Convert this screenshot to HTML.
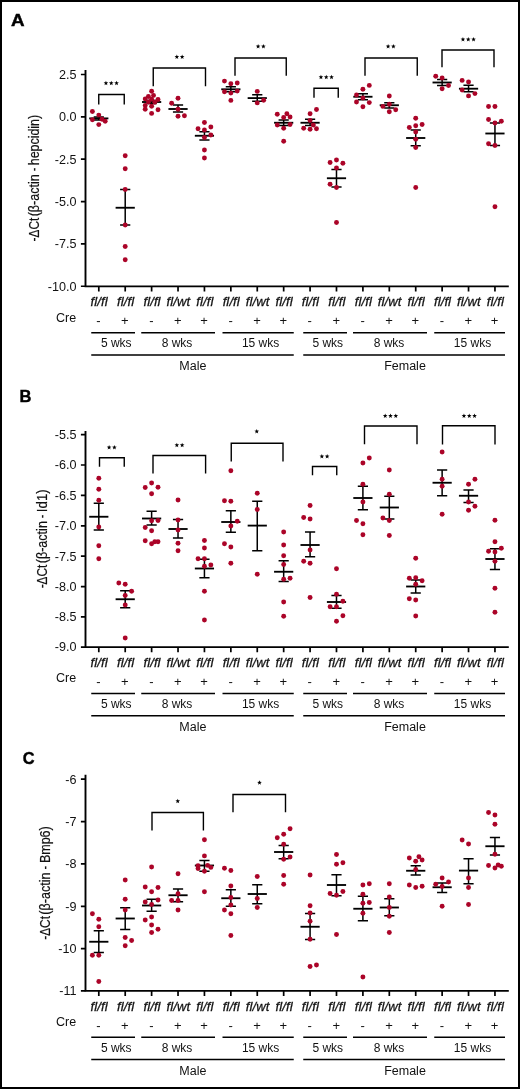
<!DOCTYPE html>
<html><head><meta charset="utf-8"><title>Figure</title>
<style>
html,body{margin:0;padding:0;background:#fff;}
body{width:520px;height:1089px;overflow:hidden;position:relative;font-family:"Liberation Sans",sans-serif;}
#frame{position:absolute;left:0;top:0;width:516px;height:1085px;border:2px solid #000;}
svg{position:absolute;left:0;top:0;will-change:transform;}
svg text{font-family:"Liberation Sans",sans-serif;fill:#111;}
.ax{stroke:#000;stroke-width:1.9;fill:none;stroke-linejoin:miter;}
.tk{stroke:#000;stroke-width:1.7;fill:none;}
.mn{stroke:#000;stroke-width:1.85;fill:none;}
.er{stroke:#000;stroke-width:1.5;fill:none;}
.br{stroke:#000;stroke-width:1.4;fill:none;stroke-linecap:square;}
.gl{stroke:#000;stroke-width:1.5;fill:none;}
.d{fill:#ab0428;}
.tl{font-size:12.6px;text-anchor:end;}
.gt{font-size:13px;font-style:italic;text-anchor:middle;stroke:#111;stroke-width:0.28px;letter-spacing:0.12px;}
.pm{font-size:13px;text-anchor:middle;}
.wk{font-size:12px;text-anchor:middle;}
.sx{font-size:12.5px;text-anchor:middle;}
.sp{fill:#000;stroke:none;}
.pl{font-size:17.4px;font-weight:bold;fill:#000;stroke:#000;stroke-width:0.45px;}
.yl{font-size:15px;text-anchor:start;stroke:#111;stroke-width:0.2px;}
</style></head><body>
<div id="frame"></div>
<svg width="520" height="1089" viewBox="0 0 520 1089">
<g>
<text class="pl" transform="translate(10.9 25.7) scale(1.08 1)">A</text>
<path class="ax" d="M85.5 69.9V286.4H508.8"/>
<path class="tk" d="M85.5 74.5H80.9M85.5 116.85H80.9M85.5 159.2H80.9M85.5 201.55H80.9M85.5 243.9H80.9M85.5 286.25H80.9"/>
<text class="tl" x="76.5" y="78.8">2.5</text>
<text class="tl" x="76.5" y="121.15">0.0</text>
<text class="tl" x="76.5" y="163.5">-2.5</text>
<text class="tl" x="76.5" y="205.85">-5.0</text>
<text class="tl" x="76.5" y="248.2">-7.5</text>
<text class="tl" x="76.5" y="290.55">-10.0</text>
<path class="tk" d="M98.8 286.4V291.6M125.21 286.4V291.6M151.62 286.4V291.6M178.03 286.4V291.6M204.44 286.4V291.6M230.85 286.4V291.6M257.26 286.4V291.6M283.67 286.4V291.6M310.08 286.4V291.6M336.49 286.4V291.6M362.9 286.4V291.6M389.31 286.4V291.6M415.72 286.4V291.6M442.13 286.4V291.6M468.54 286.4V291.6M494.95 286.4V291.6"/>
<g transform="translate(39.3 240.9) rotate(-90)">
<text class="yl" transform="translate(-0.53 0) scale(0.7897 1)">-ΔCt</text>
<text class="yl" transform="translate(24.55 0) scale(0.8380 1)">(β-actin</text>
<text class="yl" transform="translate(69.62 0) scale(0.7075 1)">-</text>
<text class="yl" transform="translate(75.63 0) scale(0.8289 1)">hepcidin)</text>
</g>
<text class="gt" x="99.2" y="306.3">fl/fl</text>
<text class="pm" x="98.5" y="325.3">-</text>
<text class="gt" x="125.61" y="306.3">fl/fl</text>
<text class="pm" x="124.91" y="325.3">+</text>
<text class="gt" x="152.02" y="306.3">fl/fl</text>
<text class="pm" x="151.32" y="325.3">-</text>
<text class="gt" x="178.43" y="306.3">fl/wt</text>
<text class="pm" x="177.73" y="325.3">+</text>
<text class="gt" x="204.84" y="306.3">fl/fl</text>
<text class="pm" x="204.14" y="325.3">+</text>
<text class="gt" x="231.25" y="306.3">fl/fl</text>
<text class="pm" x="230.55" y="325.3">-</text>
<text class="gt" x="257.66" y="306.3">fl/wt</text>
<text class="pm" x="256.96" y="325.3">+</text>
<text class="gt" x="284.07" y="306.3">fl/fl</text>
<text class="pm" x="283.37" y="325.3">+</text>
<text class="gt" x="310.48" y="306.3">fl/fl</text>
<text class="pm" x="309.78" y="325.3">-</text>
<text class="gt" x="336.89" y="306.3">fl/fl</text>
<text class="pm" x="336.19" y="325.3">+</text>
<text class="gt" x="363.3" y="306.3">fl/fl</text>
<text class="pm" x="362.6" y="325.3">-</text>
<text class="gt" x="389.71" y="306.3">fl/wt</text>
<text class="pm" x="389.01" y="325.3">+</text>
<text class="gt" x="416.12" y="306.3">fl/fl</text>
<text class="pm" x="415.42" y="325.3">+</text>
<text class="gt" x="442.53" y="306.3">fl/fl</text>
<text class="pm" x="441.83" y="325.3">-</text>
<text class="gt" x="468.94" y="306.3">fl/wt</text>
<text class="pm" x="468.24" y="325.3">+</text>
<text class="gt" x="495.35" y="306.3">fl/fl</text>
<text class="pm" x="494.65" y="325.3">+</text>
<text class="wk" style="text-anchor:start;font-size:12.5px" x="56.0" y="321.6">Cre</text>
<path class="gl" d="M91.25 332.8H135M141.25 332.8H215M222.5 332.8H293.75M303.25 332.8H347M353 332.8H427M434.25 332.8H505M91.25 355.05H293.75M303.25 355.05H505"/>
<text class="wk" x="116.25" y="347.4">5 wks</text>
<text class="wk" x="177" y="347.4">8 wks</text>
<text class="wk" x="260.6" y="347.4">15 wks</text>
<text class="wk" x="327.75" y="347.4">5 wks</text>
<text class="wk" x="389" y="347.4">8 wks</text>
<text class="wk" x="472.5" y="347.4">15 wks</text>
<text class="sx" x="192.9" y="370.3">Male</text>
<text class="sx" x="405" y="370.3">Female</text>
<path class="br" d="M98.75 103.8V94.5H124.25V103.8"/>
<path class="sp" d="M105.95 80.70L106.54 82.34L108.28 82.39L106.90 83.46L107.39 85.13L105.95 84.15L104.51 85.13L105.00 83.46L103.62 82.39L105.36 82.34Z"/>
<path class="sp" d="M111.25 80.70L111.84 82.34L113.58 82.39L112.20 83.46L112.69 85.13L111.25 84.15L109.81 85.13L110.30 83.46L108.92 82.39L110.66 82.34Z"/>
<path class="sp" d="M116.55 80.70L117.14 82.34L118.88 82.39L117.50 83.46L117.99 85.13L116.55 84.15L115.11 85.13L115.60 83.46L114.22 82.39L115.96 82.34Z"/>
<path class="br" d="M153.25 85.5V68H205.5V85.5"/>
<path class="sp" d="M176.85 54.45L177.44 56.09L179.18 56.14L177.80 57.21L178.29 58.88L176.85 57.90L175.41 58.88L175.90 57.21L174.52 56.14L176.26 56.09Z"/>
<path class="sp" d="M182.15 54.45L182.74 56.09L184.48 56.14L183.10 57.21L183.59 58.88L182.15 57.90L180.71 58.88L181.20 57.21L179.82 56.14L181.56 56.09Z"/>
<path class="br" d="M235 75V58H286.25V75"/>
<path class="sp" d="M258.10 43.95L258.69 45.59L260.43 45.64L259.05 46.71L259.54 48.38L258.10 47.40L256.66 48.38L257.15 46.71L255.77 45.64L257.51 45.59Z"/>
<path class="sp" d="M263.40 43.95L263.99 45.59L265.73 45.64L264.35 46.71L264.84 48.38L263.40 47.40L261.96 48.38L262.45 46.71L261.07 45.64L262.81 45.59Z"/>
<path class="br" d="M314 97V88.25H338.25V97"/>
<path class="sp" d="M320.95 74.70L321.54 76.34L323.28 76.39L321.90 77.46L322.39 79.13L320.95 78.15L319.51 79.13L320.00 77.46L318.62 76.39L320.36 76.34Z"/>
<path class="sp" d="M326.25 74.70L326.84 76.34L328.58 76.39L327.20 77.46L327.69 79.13L326.25 78.15L324.81 79.13L325.30 77.46L323.92 76.39L325.66 76.34Z"/>
<path class="sp" d="M331.55 74.70L332.14 76.34L333.88 76.39L332.50 77.46L332.99 79.13L331.55 78.15L330.11 79.13L330.60 77.46L329.22 76.39L330.96 76.34Z"/>
<path class="br" d="M365 75V58H417.25V75"/>
<path class="sp" d="M388.10 43.95L388.69 45.59L390.43 45.64L389.05 46.71L389.54 48.38L388.10 47.40L386.66 48.38L387.15 46.71L385.77 45.64L387.51 45.59Z"/>
<path class="sp" d="M393.40 43.95L393.99 45.59L395.73 45.64L394.35 46.71L394.84 48.38L393.40 47.40L391.96 48.38L392.45 46.71L391.07 45.64L392.81 45.59Z"/>
<path class="br" d="M442 66.5V50H494V66.5"/>
<path class="sp" d="M462.95 36.95L463.54 38.59L465.28 38.64L463.90 39.71L464.39 41.38L462.95 40.40L461.51 41.38L462.00 39.71L460.62 38.64L462.36 38.59Z"/>
<path class="sp" d="M468.25 36.95L468.84 38.59L470.58 38.64L469.20 39.71L469.69 41.38L468.25 40.40L466.81 41.38L467.30 39.71L465.92 38.64L467.66 38.59Z"/>
<path class="sp" d="M473.55 36.95L474.14 38.59L475.88 38.64L474.50 39.71L474.99 41.38L473.55 40.40L472.11 41.38L472.60 39.71L471.22 38.64L472.96 38.59Z"/>
<path class="mn" d="M89.2 118.4H108.4"/>
<path class="er" d="M98.8 116.9V119.9M93.7 116.9H103.9M93.7 119.9H103.9"/>
<path class="mn" d="M115.61 207.75H134.81"/>
<path class="er" d="M125.21 189.5V225M120.11 189.5H130.31M120.11 225H130.31"/>
<path class="mn" d="M142.02 102H161.22"/>
<path class="er" d="M151.62 100.5V103.5M146.52 100.5H156.72M146.52 103.5H156.72"/>
<path class="mn" d="M168.43 109H187.63"/>
<path class="er" d="M178.03 105V112M172.93 105H183.13M172.93 112H183.13"/>
<path class="mn" d="M194.84 135.75H214.04"/>
<path class="er" d="M204.44 131.75V140M199.34 131.75H209.54M199.34 140H209.54"/>
<path class="mn" d="M221.25 89.3H240.45"/>
<path class="er" d="M230.85 86.7V91.7M225.75 86.7H235.95M225.75 91.7H235.95"/>
<path class="mn" d="M247.66 98.1H266.86"/>
<path class="er" d="M257.26 94.8V101.3M252.16 94.8H262.36M252.16 101.3H262.36"/>
<path class="mn" d="M274.07 122.75H293.27"/>
<path class="er" d="M283.67 120V125.5M278.57 120H288.77M278.57 125.5H288.77"/>
<path class="mn" d="M300.48 122.75H319.68"/>
<path class="er" d="M310.08 119.25V125.5M304.98 119.25H315.18M304.98 125.5H315.18"/>
<path class="mn" d="M326.89 178.25H346.09"/>
<path class="er" d="M336.49 169.5V187M331.39 169.5H341.59M331.39 187H341.59"/>
<path class="mn" d="M353.3 96.75H372.5"/>
<path class="er" d="M362.9 93.75V99.75M357.8 93.75H368M357.8 99.75H368"/>
<path class="mn" d="M379.71 105.25H398.91"/>
<path class="er" d="M389.31 102.75V108M384.21 102.75H394.41M384.21 108H394.41"/>
<path class="mn" d="M406.12 138H425.32"/>
<path class="er" d="M415.72 130V145.75M410.62 130H420.82M410.62 145.75H420.82"/>
<path class="mn" d="M432.53 82.5H451.73"/>
<path class="er" d="M442.13 79.5V85.5M437.03 79.5H447.23M437.03 85.5H447.23"/>
<path class="mn" d="M458.94 88.7H478.14"/>
<path class="er" d="M468.54 85.2V91.7M463.44 85.2H473.64M463.44 91.7H473.64"/>
<path class="mn" d="M485.35 133.5H504.55"/>
<path class="er" d="M494.95 123V145.5M489.85 123H500.05M489.85 145.5H500.05"/>
<circle class="d" cx="92.4" cy="111.5" r="2.45"/>
<circle class="d" cx="98.8" cy="115.1" r="2.45"/>
<circle class="d" cx="92.4" cy="119.7" r="2.45"/>
<circle class="d" cx="102" cy="119.2" r="2.45"/>
<circle class="d" cx="105.2" cy="121.2" r="2.45"/>
<circle class="d" cx="98.8" cy="124.6" r="2.45"/>
<circle class="d" cx="125.21" cy="155.8" r="2.45"/>
<circle class="d" cx="125.21" cy="168.8" r="2.45"/>
<circle class="d" cx="125.21" cy="189.5" r="2.45"/>
<circle class="d" cx="125.21" cy="225" r="2.45"/>
<circle class="d" cx="125.21" cy="246.5" r="2.45"/>
<circle class="d" cx="125.21" cy="259.75" r="2.45"/>
<circle class="d" cx="151.62" cy="91.2" r="2.45"/>
<circle class="d" cx="148.42" cy="96.5" r="2.45"/>
<circle class="d" cx="153.54" cy="95.4" r="2.45"/>
<circle class="d" cx="145.22" cy="98.9" r="2.45"/>
<circle class="d" cx="151.62" cy="99.2" r="2.45"/>
<circle class="d" cx="158.02" cy="99.5" r="2.45"/>
<circle class="d" cx="148.42" cy="102" r="2.45"/>
<circle class="d" cx="154.82" cy="102.3" r="2.45"/>
<circle class="d" cx="145.22" cy="105.4" r="2.45"/>
<circle class="d" cx="151.62" cy="106.2" r="2.45"/>
<circle class="d" cx="145.22" cy="109.2" r="2.45"/>
<circle class="d" cx="158.02" cy="109.7" r="2.45"/>
<circle class="d" cx="151.62" cy="113.4" r="2.45"/>
<circle class="d" cx="178.03" cy="98.25" r="2.45"/>
<circle class="d" cx="171.63" cy="103.25" r="2.45"/>
<circle class="d" cx="178.03" cy="109.25" r="2.45"/>
<circle class="d" cx="178.03" cy="116.25" r="2.45"/>
<circle class="d" cx="184.43" cy="115.75" r="2.45"/>
<circle class="d" cx="204.44" cy="122.5" r="2.45"/>
<circle class="d" cx="198.04" cy="128.75" r="2.45"/>
<circle class="d" cx="210.84" cy="127" r="2.45"/>
<circle class="d" cx="204.44" cy="130" r="2.45"/>
<circle class="d" cx="210.84" cy="135" r="2.45"/>
<circle class="d" cx="204.44" cy="137.5" r="2.45"/>
<circle class="d" cx="204.44" cy="150" r="2.45"/>
<circle class="d" cx="204.44" cy="158" r="2.45"/>
<circle class="d" cx="224.45" cy="81.1" r="2.45"/>
<circle class="d" cx="230.85" cy="83.8" r="2.45"/>
<circle class="d" cx="237.25" cy="83" r="2.45"/>
<circle class="d" cx="224.45" cy="91.8" r="2.45"/>
<circle class="d" cx="237.25" cy="91.1" r="2.45"/>
<circle class="d" cx="230.85" cy="93.1" r="2.45"/>
<circle class="d" cx="230.85" cy="100.4" r="2.45"/>
<circle class="d" cx="257.26" cy="91.4" r="2.45"/>
<circle class="d" cx="263.66" cy="100.2" r="2.45"/>
<circle class="d" cx="257.26" cy="102.9" r="2.45"/>
<circle class="d" cx="277.27" cy="114.25" r="2.45"/>
<circle class="d" cx="286.87" cy="113.75" r="2.45"/>
<circle class="d" cx="283.67" cy="117.5" r="2.45"/>
<circle class="d" cx="290.07" cy="117" r="2.45"/>
<circle class="d" cx="277.27" cy="125" r="2.45"/>
<circle class="d" cx="290.07" cy="124.5" r="2.45"/>
<circle class="d" cx="283.67" cy="128.25" r="2.45"/>
<circle class="d" cx="283.67" cy="141.25" r="2.45"/>
<circle class="d" cx="316.48" cy="109.5" r="2.45"/>
<circle class="d" cx="310.08" cy="113.75" r="2.45"/>
<circle class="d" cx="310.08" cy="120.5" r="2.45"/>
<circle class="d" cx="303.68" cy="128.25" r="2.45"/>
<circle class="d" cx="310.08" cy="129.25" r="2.45"/>
<circle class="d" cx="316.48" cy="128.75" r="2.45"/>
<circle class="d" cx="313.28" cy="125" r="2.45"/>
<circle class="d" cx="330.09" cy="162.5" r="2.45"/>
<circle class="d" cx="336.49" cy="160" r="2.45"/>
<circle class="d" cx="342.89" cy="163.25" r="2.45"/>
<circle class="d" cx="336.49" cy="168" r="2.45"/>
<circle class="d" cx="330.09" cy="184.25" r="2.45"/>
<circle class="d" cx="336.49" cy="187.5" r="2.45"/>
<circle class="d" cx="336.49" cy="222.5" r="2.45"/>
<circle class="d" cx="369.3" cy="85.4" r="2.45"/>
<circle class="d" cx="362.9" cy="89.3" r="2.45"/>
<circle class="d" cx="356.5" cy="95" r="2.45"/>
<circle class="d" cx="362.9" cy="98" r="2.45"/>
<circle class="d" cx="356.5" cy="102" r="2.45"/>
<circle class="d" cx="369.3" cy="102.6" r="2.45"/>
<circle class="d" cx="362.9" cy="106.75" r="2.45"/>
<circle class="d" cx="389.31" cy="96" r="2.45"/>
<circle class="d" cx="382.91" cy="106.4" r="2.45"/>
<circle class="d" cx="389.31" cy="111.7" r="2.45"/>
<circle class="d" cx="395.71" cy="109.7" r="2.45"/>
<circle class="d" cx="389.31" cy="104.2" r="2.45"/>
<circle class="d" cx="415.72" cy="118.25" r="2.45"/>
<circle class="d" cx="409.32" cy="127.5" r="2.45"/>
<circle class="d" cx="415.72" cy="125.75" r="2.45"/>
<circle class="d" cx="422.12" cy="124.5" r="2.45"/>
<circle class="d" cx="415.72" cy="132" r="2.45"/>
<circle class="d" cx="415.72" cy="139.25" r="2.45"/>
<circle class="d" cx="415.72" cy="147.5" r="2.45"/>
<circle class="d" cx="415.72" cy="187.5" r="2.45"/>
<circle class="d" cx="435.73" cy="76.25" r="2.45"/>
<circle class="d" cx="442.13" cy="78" r="2.45"/>
<circle class="d" cx="448.53" cy="85.5" r="2.45"/>
<circle class="d" cx="442.13" cy="88.75" r="2.45"/>
<circle class="d" cx="462.14" cy="80.4" r="2.45"/>
<circle class="d" cx="468.54" cy="82" r="2.45"/>
<circle class="d" cx="462.14" cy="90" r="2.45"/>
<circle class="d" cx="474.94" cy="93.6" r="2.45"/>
<circle class="d" cx="468.54" cy="95.9" r="2.45"/>
<circle class="d" cx="488.55" cy="106.5" r="2.45"/>
<circle class="d" cx="494.95" cy="106.5" r="2.45"/>
<circle class="d" cx="488.55" cy="119.5" r="2.45"/>
<circle class="d" cx="501.35" cy="121.25" r="2.45"/>
<circle class="d" cx="494.95" cy="123" r="2.45"/>
<circle class="d" cx="488.55" cy="143.75" r="2.45"/>
<circle class="d" cx="494.95" cy="145.5" r="2.45"/>
<circle class="d" cx="494.95" cy="206.8" r="2.45"/>
</g>
<g>
<text class="pl" transform="translate(19.5 402.4) scale(0.95 1)">B</text>
<path class="ax" d="M85.5 431V647.1H508.8"/>
<path class="tk" d="M85.5 434.6H80.9M85.5 465H80.9M85.5 495.4H80.9M85.5 525.8H80.9M85.5 556.2H80.9M85.5 586.6H80.9M85.5 616.9H80.9M85.5 647.1H80.9"/>
<text class="tl" x="76.5" y="438.9">-5.5</text>
<text class="tl" x="76.5" y="469.3">-6.0</text>
<text class="tl" x="76.5" y="499.7">-6.5</text>
<text class="tl" x="76.5" y="530.1">-7.0</text>
<text class="tl" x="76.5" y="560.5">-7.5</text>
<text class="tl" x="76.5" y="590.9">-8.0</text>
<text class="tl" x="76.5" y="621.2">-8.5</text>
<text class="tl" x="76.5" y="651.4">-9.0</text>
<path class="tk" d="M98.8 647.1V652.3M125.21 647.1V652.3M151.62 647.1V652.3M178.03 647.1V652.3M204.44 647.1V652.3M230.85 647.1V652.3M257.26 647.1V652.3M283.67 647.1V652.3M310.08 647.1V652.3M336.49 647.1V652.3M362.9 647.1V652.3M389.31 647.1V652.3M415.72 647.1V652.3M442.13 647.1V652.3M468.54 647.1V652.3M494.95 647.1V652.3"/>
<g transform="translate(46.6 587.8) rotate(-90)">
<text class="yl" transform="translate(-0.53 0) scale(0.7897 1)">-ΔCt</text>
<text class="yl" transform="translate(24.55 0) scale(0.8380 1)">(β-actin</text>
<text class="yl" transform="translate(69.62 0) scale(0.7075 1)">-</text>
<text class="yl" transform="translate(75.6 0) scale(0.8875 1)">Id1)</text>
</g>
<text class="gt" x="99.2" y="667">fl/fl</text>
<text class="pm" x="98.5" y="686">-</text>
<text class="gt" x="125.61" y="667">fl/fl</text>
<text class="pm" x="124.91" y="686">+</text>
<text class="gt" x="152.02" y="667">fl/fl</text>
<text class="pm" x="151.32" y="686">-</text>
<text class="gt" x="178.43" y="667">fl/wt</text>
<text class="pm" x="177.73" y="686">+</text>
<text class="gt" x="204.84" y="667">fl/fl</text>
<text class="pm" x="204.14" y="686">+</text>
<text class="gt" x="231.25" y="667">fl/fl</text>
<text class="pm" x="230.55" y="686">-</text>
<text class="gt" x="257.66" y="667">fl/wt</text>
<text class="pm" x="256.96" y="686">+</text>
<text class="gt" x="284.07" y="667">fl/fl</text>
<text class="pm" x="283.37" y="686">+</text>
<text class="gt" x="310.48" y="667">fl/fl</text>
<text class="pm" x="309.78" y="686">-</text>
<text class="gt" x="336.89" y="667">fl/fl</text>
<text class="pm" x="336.19" y="686">+</text>
<text class="gt" x="363.3" y="667">fl/fl</text>
<text class="pm" x="362.6" y="686">-</text>
<text class="gt" x="389.71" y="667">fl/wt</text>
<text class="pm" x="389.01" y="686">+</text>
<text class="gt" x="416.12" y="667">fl/fl</text>
<text class="pm" x="415.42" y="686">+</text>
<text class="gt" x="442.53" y="667">fl/fl</text>
<text class="pm" x="441.83" y="686">-</text>
<text class="gt" x="468.94" y="667">fl/wt</text>
<text class="pm" x="468.24" y="686">+</text>
<text class="gt" x="495.35" y="667">fl/fl</text>
<text class="pm" x="494.65" y="686">+</text>
<text class="wk" style="text-anchor:start;font-size:12.5px" x="56.0" y="682.3">Cre</text>
<path class="gl" d="M91.25 693.5H135M141.25 693.5H215M222.5 693.5H293.75M303.25 693.5H347M353 693.5H427M434.25 693.5H505M91.25 715.75H293.75M303.25 715.75H505"/>
<text class="wk" x="116.25" y="708.1">5 wks</text>
<text class="wk" x="177" y="708.1">8 wks</text>
<text class="wk" x="260.6" y="708.1">15 wks</text>
<text class="wk" x="327.75" y="708.1">5 wks</text>
<text class="wk" x="389" y="708.1">8 wks</text>
<text class="wk" x="472.5" y="708.1">15 wks</text>
<text class="sx" x="192.9" y="731">Male</text>
<text class="sx" x="405" y="731">Female</text>
<path class="br" d="M99.5 466V457.75H124.25V466"/>
<path class="sp" d="M109.10 444.95L109.69 446.59L111.43 446.64L110.05 447.71L110.54 449.38L109.10 448.40L107.66 449.38L108.15 447.71L106.77 446.64L108.51 446.59Z"/>
<path class="sp" d="M114.40 444.95L114.99 446.59L116.73 446.64L115.35 447.71L115.84 449.38L114.40 448.40L112.96 449.38L113.45 447.71L112.07 446.64L113.81 446.59Z"/>
<path class="br" d="M153 472.75V455.5H205.6V472.75"/>
<path class="sp" d="M176.85 442.70L177.44 444.34L179.18 444.39L177.80 445.46L178.29 447.13L176.85 446.15L175.41 447.13L175.90 445.46L174.52 444.39L176.26 444.34Z"/>
<path class="sp" d="M182.15 442.70L182.74 444.34L184.48 444.39L183.10 445.46L183.59 447.13L182.15 446.15L180.71 447.13L181.20 445.46L179.82 444.39L181.56 444.34Z"/>
<path class="br" d="M231.25 460.75V443.25H283V460.75"/>
<path class="sp" d="M256.75 428.95L257.34 430.59L259.08 430.64L257.70 431.71L258.19 433.38L256.75 432.40L255.31 433.38L255.80 431.71L254.42 430.64L256.16 430.59Z"/>
<path class="br" d="M312.5 474.5V466.5H336.75V474.5"/>
<path class="sp" d="M321.85 453.95L322.44 455.59L324.18 455.64L322.80 456.71L323.29 458.38L321.85 457.40L320.41 458.38L320.90 456.71L319.52 455.64L321.26 455.59Z"/>
<path class="sp" d="M327.15 453.95L327.74 455.59L329.48 455.64L328.10 456.71L328.59 458.38L327.15 457.40L325.71 458.38L326.20 456.71L324.82 455.64L326.56 455.59Z"/>
<path class="br" d="M364.5 443.5V426H417V443.5"/>
<path class="sp" d="M385.20 413.45L385.79 415.09L387.53 415.14L386.15 416.21L386.64 417.88L385.20 416.90L383.76 417.88L384.25 416.21L382.87 415.14L384.61 415.09Z"/>
<path class="sp" d="M390.50 413.45L391.09 415.09L392.83 415.14L391.45 416.21L391.94 417.88L390.50 416.90L389.06 417.88L389.55 416.21L388.17 415.14L389.91 415.09Z"/>
<path class="sp" d="M395.80 413.45L396.39 415.09L398.13 415.14L396.75 416.21L397.24 417.88L395.80 416.90L394.36 417.88L394.85 416.21L393.47 415.14L395.21 415.09Z"/>
<path class="br" d="M442.5 443.75V425.75H495V443.75"/>
<path class="sp" d="M463.95 413.45L464.54 415.09L466.28 415.14L464.90 416.21L465.39 417.88L463.95 416.90L462.51 417.88L463.00 416.21L461.62 415.14L463.36 415.09Z"/>
<path class="sp" d="M469.25 413.45L469.84 415.09L471.58 415.14L470.20 416.21L470.69 417.88L469.25 416.90L467.81 417.88L468.30 416.21L466.92 415.14L468.66 415.09Z"/>
<path class="sp" d="M474.55 413.45L475.14 415.09L476.88 415.14L475.50 416.21L475.99 417.88L474.55 416.90L473.11 417.88L473.60 416.21L472.22 415.14L473.96 415.09Z"/>
<path class="mn" d="M89.2 516.75H108.4"/>
<path class="er" d="M98.8 503.25V530M93.7 503.25H103.9M93.7 530H103.9"/>
<path class="mn" d="M115.61 599.25H134.81"/>
<path class="er" d="M125.21 590.75V607.75M120.11 590.75H130.31M120.11 607.75H130.31"/>
<path class="mn" d="M142.02 518.5H161.22"/>
<path class="er" d="M151.62 511.25V525M146.52 511.25H156.72M146.52 525H156.72"/>
<path class="mn" d="M168.43 529H187.63"/>
<path class="er" d="M178.03 519.5V538M172.93 519.5H183.13M172.93 538H183.13"/>
<path class="mn" d="M194.84 568.5H214.04"/>
<path class="er" d="M204.44 559.25V577.75M199.34 559.25H209.54M199.34 577.75H209.54"/>
<path class="mn" d="M221.25 522H240.45"/>
<path class="er" d="M230.85 510.75V532.25M225.75 510.75H235.95M225.75 532.25H235.95"/>
<path class="mn" d="M247.66 525.6H266.86"/>
<path class="er" d="M257.26 501.25V550.75M252.16 501.25H262.36M252.16 550.75H262.36"/>
<path class="mn" d="M274.07 571.75H293.27"/>
<path class="er" d="M283.67 560.75V581.5M278.57 560.75H288.77M278.57 581.5H288.77"/>
<path class="mn" d="M300.48 545H319.68"/>
<path class="er" d="M310.08 532V556.75M304.98 532H315.18M304.98 556.75H315.18"/>
<path class="mn" d="M326.89 602H346.09"/>
<path class="er" d="M336.49 595.5V608.25M331.39 595.5H341.59M331.39 608.25H341.59"/>
<path class="mn" d="M353.3 498H372.5"/>
<path class="er" d="M362.9 486.25V509.75M357.8 486.25H368M357.8 509.75H368"/>
<path class="mn" d="M379.71 507.5H398.91"/>
<path class="er" d="M389.31 496.25V519M384.21 496.25H394.41M384.21 519H394.41"/>
<path class="mn" d="M406.12 586.5H425.32"/>
<path class="er" d="M415.72 580V593M410.62 580H420.82M410.62 593H420.82"/>
<path class="mn" d="M432.53 482.75H451.73"/>
<path class="er" d="M442.13 470V495.75M437.03 470H447.23M437.03 495.75H447.23"/>
<path class="mn" d="M458.94 495.75H478.14"/>
<path class="er" d="M468.54 490V502.5M463.44 490H473.64M463.44 502.5H473.64"/>
<path class="mn" d="M485.35 559H504.55"/>
<path class="er" d="M494.95 548.75V569.5M489.85 548.75H500.05M489.85 569.5H500.05"/>
<circle class="d" cx="98.8" cy="478.25" r="2.45"/>
<circle class="d" cx="98.8" cy="489.25" r="2.45"/>
<circle class="d" cx="98.8" cy="500.25" r="2.45"/>
<circle class="d" cx="98.8" cy="527" r="2.45"/>
<circle class="d" cx="98.8" cy="545.75" r="2.45"/>
<circle class="d" cx="98.8" cy="558.75" r="2.45"/>
<circle class="d" cx="118.81" cy="583" r="2.45"/>
<circle class="d" cx="125.21" cy="584.25" r="2.45"/>
<circle class="d" cx="131.61" cy="591.25" r="2.45"/>
<circle class="d" cx="125.21" cy="595.5" r="2.45"/>
<circle class="d" cx="125.21" cy="605" r="2.45"/>
<circle class="d" cx="125.21" cy="638" r="2.45"/>
<circle class="d" cx="151.62" cy="483" r="2.45"/>
<circle class="d" cx="145.22" cy="487.5" r="2.45"/>
<circle class="d" cx="158.02" cy="487.25" r="2.45"/>
<circle class="d" cx="151.62" cy="493.75" r="2.45"/>
<circle class="d" cx="151.62" cy="520.75" r="2.45"/>
<circle class="d" cx="158.02" cy="520.5" r="2.45"/>
<circle class="d" cx="145.22" cy="527.5" r="2.45"/>
<circle class="d" cx="151.62" cy="530.75" r="2.45"/>
<circle class="d" cx="145.22" cy="540.75" r="2.45"/>
<circle class="d" cx="158.02" cy="541.75" r="2.45"/>
<circle class="d" cx="151.62" cy="543.75" r="2.45"/>
<circle class="d" cx="154.82" cy="541.75" r="2.45"/>
<circle class="d" cx="178.03" cy="500" r="2.45"/>
<circle class="d" cx="178.03" cy="520" r="2.45"/>
<circle class="d" cx="178.03" cy="530" r="2.45"/>
<circle class="d" cx="178.03" cy="543.25" r="2.45"/>
<circle class="d" cx="178.03" cy="550.75" r="2.45"/>
<circle class="d" cx="204.44" cy="540.5" r="2.45"/>
<circle class="d" cx="204.44" cy="548" r="2.45"/>
<circle class="d" cx="198.04" cy="558.75" r="2.45"/>
<circle class="d" cx="204.44" cy="558.75" r="2.45"/>
<circle class="d" cx="210.84" cy="565" r="2.45"/>
<circle class="d" cx="204.44" cy="566.25" r="2.45"/>
<circle class="d" cx="204.44" cy="591.25" r="2.45"/>
<circle class="d" cx="204.44" cy="620" r="2.45"/>
<circle class="d" cx="230.85" cy="470.75" r="2.45"/>
<circle class="d" cx="224.45" cy="500.75" r="2.45"/>
<circle class="d" cx="230.85" cy="501.25" r="2.45"/>
<circle class="d" cx="237.25" cy="521.25" r="2.45"/>
<circle class="d" cx="230.85" cy="526" r="2.45"/>
<circle class="d" cx="224.45" cy="543.75" r="2.45"/>
<circle class="d" cx="230.85" cy="547" r="2.45"/>
<circle class="d" cx="230.85" cy="563.25" r="2.45"/>
<circle class="d" cx="257.26" cy="493.25" r="2.45"/>
<circle class="d" cx="257.26" cy="509.5" r="2.45"/>
<circle class="d" cx="257.26" cy="574.25" r="2.45"/>
<circle class="d" cx="283.67" cy="532" r="2.45"/>
<circle class="d" cx="283.67" cy="545" r="2.45"/>
<circle class="d" cx="283.67" cy="555.75" r="2.45"/>
<circle class="d" cx="283.67" cy="564.5" r="2.45"/>
<circle class="d" cx="283.67" cy="579.25" r="2.45"/>
<circle class="d" cx="290.07" cy="578.25" r="2.45"/>
<circle class="d" cx="283.67" cy="602" r="2.45"/>
<circle class="d" cx="283.67" cy="616.25" r="2.45"/>
<circle class="d" cx="310.08" cy="505.5" r="2.45"/>
<circle class="d" cx="303.68" cy="517.5" r="2.45"/>
<circle class="d" cx="310.08" cy="519" r="2.45"/>
<circle class="d" cx="310.08" cy="550" r="2.45"/>
<circle class="d" cx="303.68" cy="561.25" r="2.45"/>
<circle class="d" cx="310.08" cy="563.25" r="2.45"/>
<circle class="d" cx="310.08" cy="597.5" r="2.45"/>
<circle class="d" cx="336.49" cy="568.75" r="2.45"/>
<circle class="d" cx="336.49" cy="594.25" r="2.45"/>
<circle class="d" cx="342.89" cy="601.25" r="2.45"/>
<circle class="d" cx="330.09" cy="606.75" r="2.45"/>
<circle class="d" cx="336.49" cy="606.75" r="2.45"/>
<circle class="d" cx="342.89" cy="615.75" r="2.45"/>
<circle class="d" cx="336.49" cy="621.25" r="2.45"/>
<circle class="d" cx="369.3" cy="458" r="2.45"/>
<circle class="d" cx="362.9" cy="463" r="2.45"/>
<circle class="d" cx="362.9" cy="484.25" r="2.45"/>
<circle class="d" cx="362.9" cy="502" r="2.45"/>
<circle class="d" cx="356.5" cy="520.5" r="2.45"/>
<circle class="d" cx="362.9" cy="523.75" r="2.45"/>
<circle class="d" cx="362.9" cy="534.75" r="2.45"/>
<circle class="d" cx="389.31" cy="470" r="2.45"/>
<circle class="d" cx="389.31" cy="494.25" r="2.45"/>
<circle class="d" cx="382.91" cy="518" r="2.45"/>
<circle class="d" cx="389.31" cy="520.5" r="2.45"/>
<circle class="d" cx="389.31" cy="535.5" r="2.45"/>
<circle class="d" cx="415.72" cy="558.25" r="2.45"/>
<circle class="d" cx="409.32" cy="578.25" r="2.45"/>
<circle class="d" cx="415.72" cy="577.75" r="2.45"/>
<circle class="d" cx="422.12" cy="580.75" r="2.45"/>
<circle class="d" cx="415.72" cy="584.25" r="2.45"/>
<circle class="d" cx="409.32" cy="598.75" r="2.45"/>
<circle class="d" cx="415.72" cy="600" r="2.45"/>
<circle class="d" cx="415.72" cy="616" r="2.45"/>
<circle class="d" cx="442.13" cy="452" r="2.45"/>
<circle class="d" cx="442.13" cy="479.25" r="2.45"/>
<circle class="d" cx="442.13" cy="486.25" r="2.45"/>
<circle class="d" cx="442.13" cy="514.25" r="2.45"/>
<circle class="d" cx="474.94" cy="479.25" r="2.45"/>
<circle class="d" cx="468.54" cy="484.25" r="2.45"/>
<circle class="d" cx="468.54" cy="502" r="2.45"/>
<circle class="d" cx="474.94" cy="506.25" r="2.45"/>
<circle class="d" cx="468.54" cy="510.25" r="2.45"/>
<circle class="d" cx="494.95" cy="520.25" r="2.45"/>
<circle class="d" cx="494.95" cy="541.75" r="2.45"/>
<circle class="d" cx="501.35" cy="548.25" r="2.45"/>
<circle class="d" cx="488.55" cy="551.25" r="2.45"/>
<circle class="d" cx="494.95" cy="552" r="2.45"/>
<circle class="d" cx="494.95" cy="561.25" r="2.45"/>
<circle class="d" cx="494.95" cy="588.25" r="2.45"/>
<circle class="d" cx="494.95" cy="612.25" r="2.45"/>
</g>
<g>
<text class="pl" transform="translate(22.7 763.6) scale(0.94 1)">C</text>
<path class="ax" d="M85.5 774.8V990.85H508.8"/>
<path class="tk" d="M85.5 779.2H80.9M85.5 821.55H80.9M85.5 863.9H80.9M85.5 906.3H80.9M85.5 948.6H80.9M85.5 990.95H80.9"/>
<text class="tl" x="76.5" y="783.5">-6</text>
<text class="tl" x="76.5" y="825.85">-7</text>
<text class="tl" x="76.5" y="868.2">-8</text>
<text class="tl" x="76.5" y="910.6">-9</text>
<text class="tl" x="76.5" y="952.9">-10</text>
<text class="tl" x="76.5" y="995.25">-11</text>
<path class="tk" d="M98.8 990.85V996.05M125.21 990.85V996.05M151.62 990.85V996.05M178.03 990.85V996.05M204.44 990.85V996.05M230.85 990.85V996.05M257.26 990.85V996.05M283.67 990.85V996.05M310.08 990.85V996.05M336.49 990.85V996.05M362.9 990.85V996.05M389.31 990.85V996.05M415.72 990.85V996.05M442.13 990.85V996.05M468.54 990.85V996.05M494.95 990.85V996.05"/>
<g transform="translate(50 939.2) rotate(-90)">
<text class="yl" transform="translate(-0.53 0) scale(0.7897 1)">-ΔCt</text>
<text class="yl" transform="translate(24.55 0) scale(0.8380 1)">(β-actin</text>
<text class="yl" transform="translate(69.62 0) scale(0.7075 1)">-</text>
<text class="yl" transform="translate(76.1 0) scale(0.8333 1)">Bmp6)</text>
</g>
<text class="gt" x="99.2" y="1010.75">fl/fl</text>
<text class="pm" x="98.5" y="1029.75">-</text>
<text class="gt" x="125.61" y="1010.75">fl/fl</text>
<text class="pm" x="124.91" y="1029.75">+</text>
<text class="gt" x="152.02" y="1010.75">fl/fl</text>
<text class="pm" x="151.32" y="1029.75">-</text>
<text class="gt" x="178.43" y="1010.75">fl/wt</text>
<text class="pm" x="177.73" y="1029.75">+</text>
<text class="gt" x="204.84" y="1010.75">fl/fl</text>
<text class="pm" x="204.14" y="1029.75">+</text>
<text class="gt" x="231.25" y="1010.75">fl/fl</text>
<text class="pm" x="230.55" y="1029.75">-</text>
<text class="gt" x="257.66" y="1010.75">fl/wt</text>
<text class="pm" x="256.96" y="1029.75">+</text>
<text class="gt" x="284.07" y="1010.75">fl/fl</text>
<text class="pm" x="283.37" y="1029.75">+</text>
<text class="gt" x="310.48" y="1010.75">fl/fl</text>
<text class="pm" x="309.78" y="1029.75">-</text>
<text class="gt" x="336.89" y="1010.75">fl/fl</text>
<text class="pm" x="336.19" y="1029.75">+</text>
<text class="gt" x="363.3" y="1010.75">fl/fl</text>
<text class="pm" x="362.6" y="1029.75">-</text>
<text class="gt" x="389.71" y="1010.75">fl/wt</text>
<text class="pm" x="389.01" y="1029.75">+</text>
<text class="gt" x="416.12" y="1010.75">fl/fl</text>
<text class="pm" x="415.42" y="1029.75">+</text>
<text class="gt" x="442.53" y="1010.75">fl/fl</text>
<text class="pm" x="441.83" y="1029.75">-</text>
<text class="gt" x="468.94" y="1010.75">fl/wt</text>
<text class="pm" x="468.24" y="1029.75">+</text>
<text class="gt" x="495.35" y="1010.75">fl/fl</text>
<text class="pm" x="494.65" y="1029.75">+</text>
<text class="wk" style="text-anchor:start;font-size:12.5px" x="56.0" y="1026.05">Cre</text>
<path class="gl" d="M91.25 1037.25H135M141.25 1037.25H215M222.5 1037.25H293.75M303.25 1037.25H347M353 1037.25H427M434.25 1037.25H505M91.25 1059.5H293.75M303.25 1059.5H505"/>
<text class="wk" x="116.25" y="1051.85">5 wks</text>
<text class="wk" x="177" y="1051.85">8 wks</text>
<text class="wk" x="260.6" y="1051.85">15 wks</text>
<text class="wk" x="327.75" y="1051.85">5 wks</text>
<text class="wk" x="389" y="1051.85">8 wks</text>
<text class="wk" x="472.5" y="1051.85">15 wks</text>
<text class="sx" x="192.9" y="1074.75">Male</text>
<text class="sx" x="405" y="1074.75">Female</text>
<path class="br" d="M152 829.75V812.5H203.4V829.75"/>
<path class="sp" d="M177.75 798.70L178.34 800.34L180.08 800.39L178.70 801.46L179.19 803.13L177.75 802.15L176.31 803.13L176.80 801.46L175.42 800.39L177.16 800.34Z"/>
<path class="br" d="M233 811.5V794.5H285.5V811.5"/>
<path class="sp" d="M259.50 780.20L260.09 781.84L261.83 781.89L260.45 782.96L260.94 784.63L259.50 783.65L258.06 784.63L258.55 782.96L257.17 781.89L258.91 781.84Z"/>
<path class="mn" d="M89.2 941.75H108.4"/>
<path class="er" d="M98.8 930.75V952.5M93.7 930.75H103.9M93.7 952.5H103.9"/>
<path class="mn" d="M115.61 918.5H134.81"/>
<path class="er" d="M125.21 907.75V929.5M120.11 907.75H130.31M120.11 929.5H130.31"/>
<path class="mn" d="M142.02 905.5H161.22"/>
<path class="er" d="M151.62 899.25V911.25M146.52 899.25H156.72M146.52 911.25H156.72"/>
<path class="mn" d="M168.43 895.25H187.63"/>
<path class="er" d="M178.03 889V901.75M172.93 889H183.13M172.93 901.75H183.13"/>
<path class="mn" d="M194.84 865.5H214.04"/>
<path class="er" d="M204.44 860.5V871.25M199.34 860.5H209.54M199.34 871.25H209.54"/>
<path class="mn" d="M221.25 898.25H240.45"/>
<path class="er" d="M230.85 889.75V906.25M225.75 889.75H235.95M225.75 906.25H235.95"/>
<path class="mn" d="M247.66 894H266.86"/>
<path class="er" d="M257.26 884.75V903.75M252.16 884.75H262.36M252.16 903.75H262.36"/>
<path class="mn" d="M274.07 852H293.27"/>
<path class="er" d="M283.67 845.5V858.75M278.57 845.5H288.77M278.57 858.75H288.77"/>
<path class="mn" d="M300.48 926.75H319.68"/>
<path class="er" d="M310.08 913.5V939.5M304.98 913.5H315.18M304.98 939.5H315.18"/>
<path class="mn" d="M326.89 885H346.09"/>
<path class="er" d="M336.49 874.75V895.75M331.39 874.75H341.59M331.39 895.75H341.59"/>
<path class="mn" d="M353.3 908.75H372.5"/>
<path class="er" d="M362.9 896.25V920.75M357.8 896.25H368M357.8 920.75H368"/>
<path class="mn" d="M379.71 907.5H398.91"/>
<path class="er" d="M389.31 898.75V915.75M384.21 898.75H394.41M384.21 915.75H394.41"/>
<path class="mn" d="M406.12 870.75H425.32"/>
<path class="er" d="M415.72 865.75V875M410.62 865.75H420.82M410.62 875H420.82"/>
<path class="mn" d="M432.53 887.25H451.73"/>
<path class="er" d="M442.13 883V892.5M437.03 883H447.23M437.03 892.5H447.23"/>
<path class="mn" d="M458.94 870.6H478.14"/>
<path class="er" d="M468.54 858.75V883.75M463.44 858.75H473.64M463.44 883.75H473.64"/>
<path class="mn" d="M485.35 846.25H504.55"/>
<path class="er" d="M494.95 837.5V855M489.85 837.5H500.05M489.85 855H500.05"/>
<circle class="d" cx="92.4" cy="913.75" r="2.45"/>
<circle class="d" cx="98.8" cy="919.25" r="2.45"/>
<circle class="d" cx="98.8" cy="926.75" r="2.45"/>
<circle class="d" cx="92.4" cy="955.25" r="2.45"/>
<circle class="d" cx="98.8" cy="955.25" r="2.45"/>
<circle class="d" cx="98.8" cy="981.5" r="2.45"/>
<circle class="d" cx="125.21" cy="880" r="2.45"/>
<circle class="d" cx="125.21" cy="899.25" r="2.45"/>
<circle class="d" cx="125.21" cy="910" r="2.45"/>
<circle class="d" cx="125.21" cy="937.5" r="2.45"/>
<circle class="d" cx="131.61" cy="940.5" r="2.45"/>
<circle class="d" cx="125.21" cy="945.75" r="2.45"/>
<circle class="d" cx="151.62" cy="867" r="2.45"/>
<circle class="d" cx="145.22" cy="887" r="2.45"/>
<circle class="d" cx="158.02" cy="887.5" r="2.45"/>
<circle class="d" cx="151.62" cy="891.75" r="2.45"/>
<circle class="d" cx="158.02" cy="900" r="2.45"/>
<circle class="d" cx="145.22" cy="902" r="2.45"/>
<circle class="d" cx="151.62" cy="904.5" r="2.45"/>
<circle class="d" cx="151.62" cy="917" r="2.45"/>
<circle class="d" cx="145.22" cy="920" r="2.45"/>
<circle class="d" cx="151.62" cy="925" r="2.45"/>
<circle class="d" cx="158.02" cy="929.25" r="2.45"/>
<circle class="d" cx="151.62" cy="932.5" r="2.45"/>
<circle class="d" cx="178.03" cy="873.75" r="2.45"/>
<circle class="d" cx="178.03" cy="893.75" r="2.45"/>
<circle class="d" cx="171.63" cy="900.5" r="2.45"/>
<circle class="d" cx="178.03" cy="900.5" r="2.45"/>
<circle class="d" cx="178.03" cy="910" r="2.45"/>
<circle class="d" cx="204.44" cy="839.7" r="2.45"/>
<circle class="d" cx="204.44" cy="855.9" r="2.45"/>
<circle class="d" cx="198.04" cy="865.7" r="2.45"/>
<circle class="d" cx="198.04" cy="868.5" r="2.45"/>
<circle class="d" cx="207.64" cy="865.4" r="2.45"/>
<circle class="d" cx="210.84" cy="867.4" r="2.45"/>
<circle class="d" cx="204.44" cy="871.2" r="2.45"/>
<circle class="d" cx="204.44" cy="891.75" r="2.45"/>
<circle class="d" cx="224.45" cy="868.25" r="2.45"/>
<circle class="d" cx="230.85" cy="870.5" r="2.45"/>
<circle class="d" cx="230.85" cy="886" r="2.45"/>
<circle class="d" cx="230.85" cy="897.5" r="2.45"/>
<circle class="d" cx="230.85" cy="905" r="2.45"/>
<circle class="d" cx="224.45" cy="910" r="2.45"/>
<circle class="d" cx="230.85" cy="913.75" r="2.45"/>
<circle class="d" cx="230.85" cy="935.5" r="2.45"/>
<circle class="d" cx="257.26" cy="876.5" r="2.45"/>
<circle class="d" cx="257.26" cy="898.5" r="2.45"/>
<circle class="d" cx="257.26" cy="907.5" r="2.45"/>
<circle class="d" cx="290.07" cy="828.75" r="2.45"/>
<circle class="d" cx="283.67" cy="834.25" r="2.45"/>
<circle class="d" cx="277.27" cy="837.75" r="2.45"/>
<circle class="d" cx="283.67" cy="844.25" r="2.45"/>
<circle class="d" cx="290.07" cy="857" r="2.45"/>
<circle class="d" cx="283.67" cy="859.25" r="2.45"/>
<circle class="d" cx="283.67" cy="875.5" r="2.45"/>
<circle class="d" cx="283.67" cy="884.25" r="2.45"/>
<circle class="d" cx="310.08" cy="875" r="2.45"/>
<circle class="d" cx="310.08" cy="905.75" r="2.45"/>
<circle class="d" cx="310.08" cy="913" r="2.45"/>
<circle class="d" cx="310.08" cy="921.25" r="2.45"/>
<circle class="d" cx="310.08" cy="939.25" r="2.45"/>
<circle class="d" cx="310.08" cy="966.5" r="2.45"/>
<circle class="d" cx="316.48" cy="965" r="2.45"/>
<circle class="d" cx="336.49" cy="854.5" r="2.45"/>
<circle class="d" cx="336.49" cy="864.25" r="2.45"/>
<circle class="d" cx="342.89" cy="862.75" r="2.45"/>
<circle class="d" cx="342.89" cy="891.5" r="2.45"/>
<circle class="d" cx="330.09" cy="893.5" r="2.45"/>
<circle class="d" cx="336.49" cy="895.25" r="2.45"/>
<circle class="d" cx="336.49" cy="934.5" r="2.45"/>
<circle class="d" cx="362.9" cy="885" r="2.45"/>
<circle class="d" cx="369.3" cy="883.75" r="2.45"/>
<circle class="d" cx="362.9" cy="894.25" r="2.45"/>
<circle class="d" cx="369.3" cy="902.5" r="2.45"/>
<circle class="d" cx="362.9" cy="903.25" r="2.45"/>
<circle class="d" cx="362.9" cy="913.25" r="2.45"/>
<circle class="d" cx="362.9" cy="977" r="2.45"/>
<circle class="d" cx="389.31" cy="883.75" r="2.45"/>
<circle class="d" cx="389.31" cy="897" r="2.45"/>
<circle class="d" cx="389.31" cy="907.5" r="2.45"/>
<circle class="d" cx="389.31" cy="916.25" r="2.45"/>
<circle class="d" cx="389.31" cy="932.5" r="2.45"/>
<circle class="d" cx="409.32" cy="858" r="2.45"/>
<circle class="d" cx="418.92" cy="856.75" r="2.45"/>
<circle class="d" cx="415.72" cy="861.25" r="2.45"/>
<circle class="d" cx="422.12" cy="860" r="2.45"/>
<circle class="d" cx="415.72" cy="869.5" r="2.45"/>
<circle class="d" cx="409.32" cy="885" r="2.45"/>
<circle class="d" cx="415.72" cy="887.5" r="2.45"/>
<circle class="d" cx="422.12" cy="886.25" r="2.45"/>
<circle class="d" cx="442.13" cy="878" r="2.45"/>
<circle class="d" cx="448.53" cy="882" r="2.45"/>
<circle class="d" cx="435.73" cy="884.25" r="2.45"/>
<circle class="d" cx="442.13" cy="886.5" r="2.45"/>
<circle class="d" cx="442.13" cy="906.25" r="2.45"/>
<circle class="d" cx="462.14" cy="840" r="2.45"/>
<circle class="d" cx="468.54" cy="844" r="2.45"/>
<circle class="d" cx="468.54" cy="878" r="2.45"/>
<circle class="d" cx="468.54" cy="887.5" r="2.45"/>
<circle class="d" cx="468.54" cy="904.5" r="2.45"/>
<circle class="d" cx="488.55" cy="812.5" r="2.45"/>
<circle class="d" cx="494.95" cy="815" r="2.45"/>
<circle class="d" cx="494.95" cy="824.25" r="2.45"/>
<circle class="d" cx="494.95" cy="854.25" r="2.45"/>
<circle class="d" cx="488.55" cy="865.5" r="2.45"/>
<circle class="d" cx="498.15" cy="865" r="2.45"/>
<circle class="d" cx="501.35" cy="866.25" r="2.45"/>
<circle class="d" cx="494.95" cy="868" r="2.45"/>
</g>
</svg>
</body></html>
